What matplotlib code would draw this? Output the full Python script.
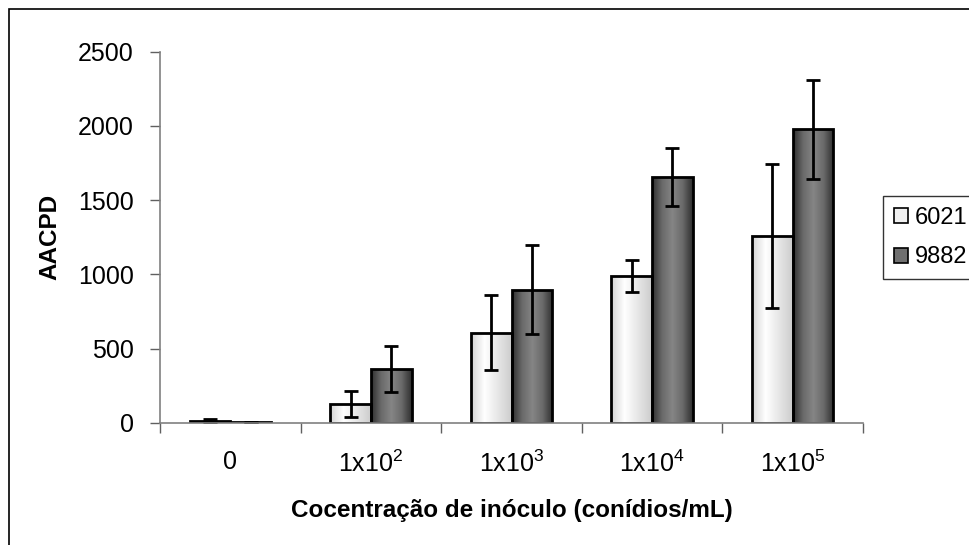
import numpy as np
import matplotlib
matplotlib.use("Agg")
import matplotlib.pyplot as plt
from matplotlib.patches import Rectangle
from matplotlib.colors import LinearSegmentedColormap

plt.rcParams['font.family'] = ['Liberation Sans', 'DejaVu Sans']
plt.rcParams['mathtext.fontset'] = 'custom'
plt.rcParams['mathtext.rm'] = 'Liberation Sans'
plt.rcParams['mathtext.it'] = 'Liberation Sans'

# data
categories = ['0', '1x10$^{2}$', '1x10$^{3}$', '1x10$^{4}$', '1x10$^{5}$']
series_names = ['6021', '9882']
mean_6021 = [13, 128, 606, 988, 1258]
err_6021 = [13, 88, 252, 105, 487]
mean_9882 = [3, 362, 896, 1656, 1978]
err_9882 = [4, 154, 301, 194, 334]

W, H = 969, 545
fig = plt.figure(figsize=(W / 100, H / 100), dpi=100)
ax = fig.add_axes([160 / W, 1 - 422.7 / H, 703 / W, 371 / H])

# outer chart border (runs off the right and bottom edges)
fig.patches.append(Rectangle((9 / W, -0.1), 1.2, 1 - 9 / H + 0.1, transform=fig.transFigure,
                             fill=False, edgecolor='black', linewidth=1.2))

light = LinearSegmentedColormap.from_list('light', ['#d4d4d4', '#ffffff', '#e6e6e6', '#cccccc'])
dark = LinearSegmentedColormap.from_list('dark', ['#2e2e2e', '#6a6a6a', '#858585', '#6a6a6a', '#2e2e2e'])

x = np.arange(len(categories))
bw = 0.29
bars1 = ax.bar(x - bw / 2, mean_6021, bw, facecolor='none', edgecolor='black', linewidth=2, zorder=3)
bars2 = ax.bar(x + bw / 2, mean_9882, bw, facecolor='none', edgecolor='black', linewidth=2, zorder=3)

grad = np.linspace(0, 1, 256).reshape(1, -1)
for bars, cmap in [(bars1, light), (bars2, dark)]:
    for b in bars:
        if b.get_height() <= 0:
            continue
        ax.imshow(grad, cmap=cmap, aspect='auto', zorder=2,
                  extent=[b.get_x(), b.get_x() + b.get_width(), 0, b.get_height()])

ax.errorbar(x - bw / 2, mean_6021, yerr=err_6021, fmt='none', ecolor='black',
            elinewidth=2, capsize=5, capthick=2, zorder=4)
ax.errorbar(x + bw / 2, mean_9882, yerr=err_9882, fmt='none', ecolor='black',
            elinewidth=2, capsize=5, capthick=2, zorder=4)

ax.set_xlim(-0.5, len(categories) - 0.5)
ax.set_ylim(0, 2500)
ax.set_yticks(np.arange(0, 2501, 500))
ax.set_xticks(np.arange(-0.5, len(categories)), [])
ax.set_xticks(x, categories, minor=True)
ax.tick_params(axis='x', which='major', direction='out', length=7, width=1, color='#606060')
ax.tick_params(axis='x', which='minor', length=0, pad=20, labelsize=18)
ax.tick_params(axis='y', direction='out', length=7, width=1, color='#606060', pad=12, labelsize=18)

for s in ['top', 'right']:
    ax.spines[s].set_visible(False)
for s in ['left', 'bottom']:
    ax.spines[s].set_color('#808080')
    ax.spines[s].set_linewidth(1.2)
ax.spines['bottom'].set_zorder(5)

ax.set_xlabel('Cocentração de inóculo (conídios/mL)', fontsize=17.5, fontweight='bold', labelpad=16)
ax.set_ylabel('AACPD', fontsize=17.5, fontweight='bold', labelpad=12)

handles = [Rectangle((0, 0), 1, 1, facecolor='#f0f0f0', edgecolor='black', linewidth=1.2),
           Rectangle((0, 0), 1, 1, facecolor='#707070', edgecolor='black', linewidth=1.2)]
leg = fig.legend(handles, series_names, loc='upper left', bbox_to_anchor=(883 / W, 1 - 196 / H),
                 frameon=True, fancybox=False, shadow=False, fontsize=17, borderaxespad=0,
                 handlelength=0.6, handleheight=0.6, handletextpad=0.3, borderpad=0.45,
                 labelspacing=0.75)
leg.get_frame().set_edgecolor('black')
leg.get_frame().set_linewidth(1.0)

fig.savefig('out.png', dpi=100)
